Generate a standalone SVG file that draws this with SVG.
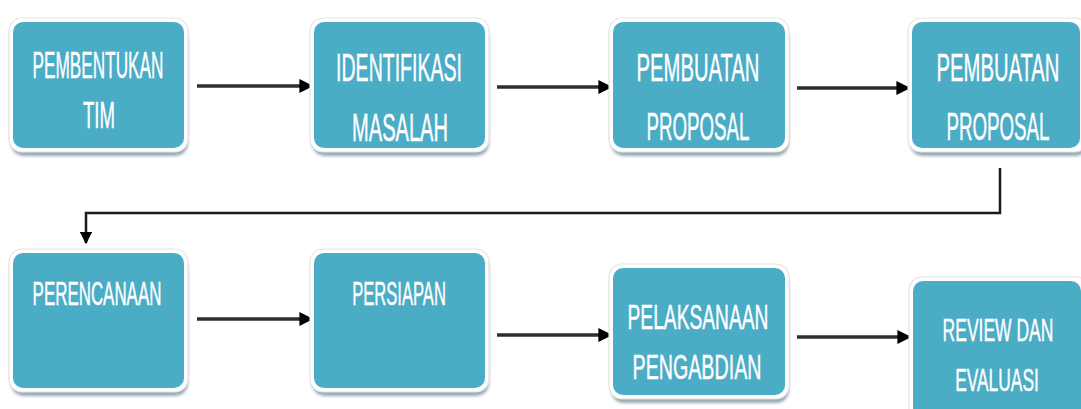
<svg xmlns="http://www.w3.org/2000/svg" width="1081" height="409" viewBox="0 0 1081 409">
<defs>
<style>
.sh{fill:#94abb2;filter:url(#blur)}
.rim{fill:#ffffff;stroke:#e2e4e5;stroke-width:1.2}
.box{fill:#4BACC6}
.t{font-family:"Liberation Sans",Arial,sans-serif;fill:#ffffff;stroke:#ffffff;stroke-width:0.45;text-anchor:middle}
.ar{fill:none;stroke:#2e2e2e;stroke-width:3.5}
.ln{fill:none;stroke:#1a1a1a;stroke-width:2.5}
</style>
<filter id="blur" x="-10%" y="-10%" width="120%" height="130%"><feGaussianBlur stdDeviation="1.5"/></filter>
<marker id="ah" viewBox="0 0 10 10" refX="9" refY="5" markerWidth="4" markerHeight="4" markerUnits="strokeWidth" orient="auto"><path d="M0,0 L10,5 L0,10 Z" fill="#000"/></marker>
<marker id="ah2" viewBox="0 0 10 10" refX="9" refY="5" markerWidth="5" markerHeight="5" markerUnits="strokeWidth" orient="auto"><path d="M0,0 L10,5 L0,10 Z" fill="#000"/></marker>
</defs>
<rect width="1081" height="409" fill="#ffffff"/>
<g id="connectors">
<path class="ar" d="M197,86 H312" marker-end="url(#ah)"/>
<path class="ar" d="M497,87 H611" marker-end="url(#ah)"/>
<path class="ar" d="M797,88 H909" marker-end="url(#ah)"/>
<path class="ln" d="M1000,168 V213 H86 V243" marker-end="url(#ah2)"/>
<path class="ar" d="M197,319 H312" marker-end="url(#ah)"/>
<path class="ar" d="M497,335 H611" marker-end="url(#ah)"/>
<path class="ar" d="M797,337 H910" marker-end="url(#ah)"/>
</g>
<g id="n1">
<rect class="sh" x="11" y="25" width="177" height="131" rx="13"/>
<rect class="rim" x="9" y="18" width="179" height="134" rx="13"/>
<rect class="box" x="13" y="22" width="171" height="126" rx="10"/>
<text class="t" font-size="37" transform="translate(98,78) scale(0.465,1)">PEMBENTUKAN</text>
<text class="t" font-size="37" transform="translate(99,128) scale(0.502,1)">TIM</text>
</g>
<g id="n2">
<rect class="sh" x="312" y="25" width="177" height="131" rx="13"/>
<rect class="rim" x="310" y="18" width="179" height="134" rx="13"/>
<rect class="box" x="314" y="22" width="171" height="126" rx="10"/>
<text class="t" font-size="38" transform="translate(399,81) scale(0.514,1)">IDENTIFIKASI</text>
<text class="t" font-size="38" transform="translate(400,141) scale(0.529,1)">MASALAH</text>
</g>
<g id="n3">
<rect class="sh" x="611" y="25" width="178" height="131" rx="13"/>
<rect class="rim" x="609" y="18" width="180" height="134" rx="13"/>
<rect class="box" x="613" y="22" width="172" height="126" rx="10"/>
<text class="t" font-size="38" transform="translate(698,81) scale(0.533,1)">PEMBUATAN</text>
<text class="t" font-size="38" transform="translate(698,140) scale(0.493,1)">PROPOSAL</text>
</g>
<g id="n4">
<rect class="sh" x="910" y="25" width="178" height="131" rx="13"/>
<rect class="rim" x="908" y="18" width="180" height="134" rx="13"/>
<rect class="box" x="912" y="22" width="168" height="126" rx="10"/>
<text class="t" font-size="38" transform="translate(998,81) scale(0.533,1)">PEMBUATAN</text>
<text class="t" font-size="38" transform="translate(998,140) scale(0.493,1)">PROPOSAL</text>
</g>
<g id="n5">
<rect class="sh" x="11" y="256" width="177" height="140" rx="13"/>
<rect class="rim" x="9" y="249" width="179" height="143" rx="13"/>
<rect class="box" x="13" y="253" width="171" height="135" rx="10"/>
<text class="t" font-size="34" transform="translate(97,305) scale(0.498,1)">PERENCANAAN</text>
</g>
<g id="n6">
<rect class="sh" x="312" y="256" width="177" height="140" rx="13"/>
<rect class="rim" x="310" y="249" width="179" height="143" rx="13"/>
<rect class="box" x="314" y="253" width="171" height="135" rx="10"/>
<text class="t" font-size="34" transform="translate(399,305) scale(0.488,1)">PERSIAPAN</text>
</g>
<g id="n7">
<rect class="sh" x="611" y="271" width="178" height="132" rx="13"/>
<rect class="rim" x="609" y="264" width="180" height="135" rx="13"/>
<rect class="box" x="613" y="268" width="172" height="127" rx="10"/>
<text class="t" font-size="36" transform="translate(698,329) scale(0.534,1)">PELAKSANAAN</text>
<text class="t" font-size="36" transform="translate(697,379) scale(0.546,1)">PENGABDIAN</text>
</g>
<g id="n8">
<rect class="sh" x="911" y="284" width="178" height="145" rx="13"/>
<rect class="rim" x="909" y="277" width="180" height="148" rx="13"/>
<rect class="box" x="913" y="281" width="168" height="140" rx="10"/>
<text class="t" font-size="31" transform="translate(998,341) scale(0.565,1)">REVIEW DAN</text>
<text class="t" font-size="31" transform="translate(997,391) scale(0.561,1)">EVALUASI</text>
</g>
</svg>
